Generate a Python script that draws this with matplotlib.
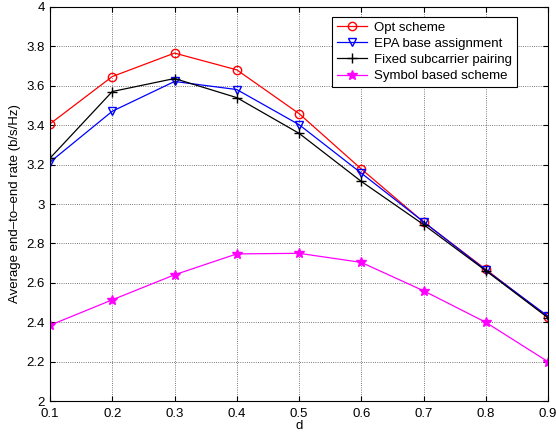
import numpy as np
import matplotlib.pyplot as plt

plt.rcParams.update({
    "font.family": ["Liberation Sans", "DejaVu Sans"],
    "font.size": 9.5,
    "xtick.direction": "in",
    "ytick.direction": "in",
    "xtick.top": True,
    "ytick.right": True,
    "xtick.major.pad": 5,
})

d = [0.1, 0.2, 0.3, 0.4, 0.5, 0.6, 0.7, 0.8, 0.9]
opt_scheme = [3.407, 3.647, 3.766, 3.681, 3.459, 3.178, 2.909, 2.669, 2.425]
epa_base = [3.213, 3.471, 3.622, 3.581, 3.403, 3.157, 2.910, 2.665, 2.431]
fixed_pairing = [3.233, 3.571, 3.637, 3.540, 3.359, 3.115, 2.896, 2.662, 2.423]
symbol_based = [2.385, 2.514, 2.641, 2.747, 2.750, 2.704, 2.560, 2.400, 2.200]

fig = plt.figure(figsize=(5.56, 4.36), dpi=100)
ax = fig.add_axes([0.09, 0.08, 0.8956, 0.904])

ax.plot(d, opt_scheme, color='red', marker='o', mfc='none', ms=6, lw=0.9, label='Opt scheme')
ax.plot(d, epa_base, color='blue', marker='v', mfc='none', ms=6, lw=0.9, label='EPA base assignment')
ax.plot(d, fixed_pairing, color='black', marker='+', ms=7, lw=0.9, label='Fixed subcarrier pairing')
ax.plot(d, symbol_based, color='magenta', marker='*', ms=7, lw=0.9, label='Symbol based scheme')

ax.set_xlim(0.1, 0.9)
ax.set_ylim(2, 4)
ax.set_xticks(d)
ax.set_xticklabels([f'{v:g}' for v in d])
yt = np.arange(2, 4.01, 0.2)
ax.set_yticks(yt)
ax.set_yticklabels([f'{v:g}' for v in np.round(yt, 1)])
ax.grid(True, linestyle=':', color='black', lw=0.6, alpha=0.7)
ax.set_xlabel('d', labelpad=0)
ax.set_ylabel('Average end\u2013to\u2013end rate (b/s/Hz)', labelpad=4)

leg = ax.legend(loc='upper right', bbox_to_anchor=(0.945, 0.985), fancybox=False,
                edgecolor='black', framealpha=1, borderpad=0.35, labelspacing=0.3,
                handlelength=2.3, handletextpad=0.5, borderaxespad=0.3, fontsize=9.5)
leg.get_frame().set_linewidth(0.8)

plt.savefig('out.png', dpi=100)
